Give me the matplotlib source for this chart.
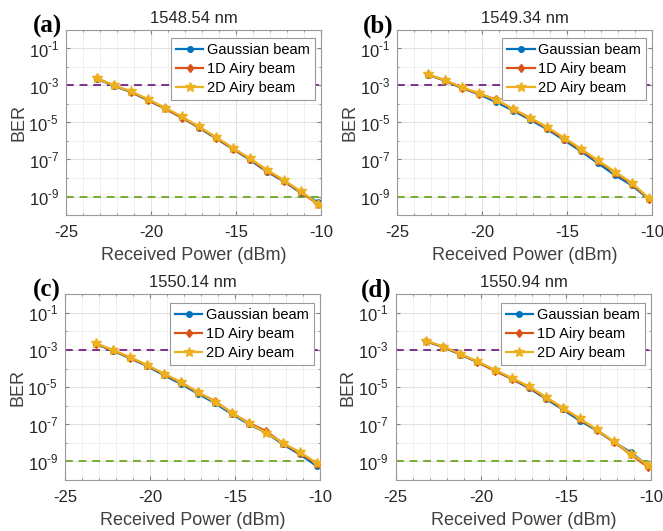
import numpy as np
import matplotlib.pyplot as plt
from matplotlib.ticker import LogLocator, MultipleLocator, NullFormatter

plt.rcParams['font.family'] = ['Liberation Sans', 'DejaVu Sans']
plt.rcParams['axes.unicode_minus'] = False
plt.rcParams['mathtext.fontset'] = 'custom'
plt.rcParams['mathtext.rm'] = 'Liberation Sans'

# received optical power (dBm)
power = [-23.2, -22.2, -21.2, -20.2, -19.2, -18.2, -17.2, -16.2,
         -15.2, -14.2, -13.2, -12.2, -11.2, -10.2]

wavelengths = ['1548.54 nm', '1549.34 nm', '1550.14 nm', '1550.94 nm']
letters = ['(a)', '(b)', '(c)', '(d)']
labels = ['Gaussian beam', '1D Airy beam', '2D Airy beam']

# log10(BER) for each channel
gauss_a = [-2.64, -3.02, -3.36, -3.80, -4.25, -4.74, -5.28, -5.86, -6.43, -7.02, -7.66, -8.18, -8.80, -9.30]
airy1_a = [-2.62, -3.00, -3.34, -3.77, -4.24, -4.74, -5.25, -5.83, -6.41, -6.98, -7.62, -8.15, -8.78, -9.40]
airy2_a = [-2.62, -3.00, -3.32, -3.74, -4.20, -4.68, -5.22, -5.78, -6.37, -6.94, -7.55, -8.11, -8.72, -9.38]

gauss_b = [-2.42, -2.75, -3.15, -3.48, -3.90, -4.36, -4.85, -5.36, -5.95, -6.56, -7.20, -7.85, -8.40, -9.15]
airy1_b = [-2.41, -2.73, -3.13, -3.45, -3.76, -4.30, -4.78, -5.29, -5.88, -6.48, -7.10, -7.72, -8.32, -9.11]
airy2_b = [-2.40, -2.72, -3.10, -3.43, -3.78, -4.26, -4.74, -5.25, -5.82, -6.42, -7.05, -7.66, -8.27, -9.10]

gauss_c = [-2.68, -3.04, -3.44, -3.86, -4.36, -4.82, -5.35, -5.86, -6.45, -7.00, -7.44, -8.08, -8.62, -9.25]
airy1_c = [-2.66, -3.02, -3.41, -3.82, -4.30, -4.75, -5.29, -5.74, -6.39, -6.92, -7.36, -8.02, -8.56, -9.13]
airy2_c = [-2.64, -3.00, -3.38, -3.80, -4.27, -4.72, -5.26, -5.78, -6.37, -6.95, -7.45, -8.00, -8.50, -9.08]

gauss_d = [-2.54, -2.86, -3.25, -3.66, -4.10, -4.56, -5.04, -5.62, -6.20, -6.80, -7.33, -7.95, -8.50, -9.22]
airy1_d = [-2.53, -2.84, -3.24, -3.64, -4.12, -4.54, -5.00, -5.57, -6.14, -6.72, -7.30, -7.95, -8.62, -9.30]
airy2_d = [-2.52, -2.82, -3.22, -3.62, -4.06, -4.50, -4.95, -5.52, -6.10, -6.68, -7.28, -7.92, -8.58, -9.18]

panels = [(gauss_a, airy1_a, airy2_a), (gauss_b, airy1_b, airy2_b),
          (gauss_c, airy1_c, airy2_c), (gauss_d, airy1_d, airy2_d)]

fec_limit = 1e-3
target_ber = 1e-9

yticks = [1e-1, 1e-3, 1e-5, 1e-7, 1e-9]
ytick_labels = ['$10^{\\text{-}1}$', '$10^{\\text{-}3}$', '$10^{\\text{-}5}$',
                '$10^{\\text{-}7}$', '$10^{\\text{-}9}$']

colors = ['#0072BD', '#D95319', '#EDB120']
markers = ['o', 'd', '*']
msizes = [4, 4.5, 7]

fig = plt.figure(figsize=(6.63, 5.31), dpi=100)
boxes = [[0.0995, 0.595, 0.385, 0.349], [0.599, 0.595, 0.385, 0.349],
         [0.098, 0.096, 0.385, 0.350], [0.597, 0.096, 0.385, 0.350]]

for i in range(4):
    ax = fig.add_axes(boxes[i])
    ax.axhline(fec_limit, color='#7E2F8E', ls=(0, (4, 3)), lw=1.4, zorder=1)
    ax.axhline(target_ber, color='#77AC30', ls=(0, (4, 3)), lw=1.4, zorder=1)
    for j in range(3):
        ber = 10 ** np.array(panels[i][j])
        ax.semilogy(power, ber, color=colors[j], marker=markers[j], ms=msizes[j],
                    lw=1.6, label=labels[j], zorder=2 + j)

    ax.set_xlim(-25, -10)
    ax.set_ylim(1e-10, 1)
    ax.xaxis.set_major_locator(MultipleLocator(5))
    ax.xaxis.set_minor_locator(MultipleLocator(1))
    ax.yaxis.set_minor_locator(LogLocator(base=10, subs=(1.0,), numticks=20))
    ax.yaxis.set_minor_formatter(NullFormatter())
    ax.set_yticks(yticks)
    ax.set_yticklabels(ytick_labels)
    ax.grid(True, which='major', color='#e2e2e2', lw=0.8)
    ax.grid(True, which='minor', color='#ececec', lw=0.6)
    ax.set_axisbelow(True)
    ax.tick_params(which='both', direction='in', top=True, right=True,
                   colors='#808080', labelcolor='#262626', labelsize=12)
    ax.tick_params(axis='x', pad=7)
    ax.tick_params(axis='y', pad=5)
    ax.tick_params(which='major', length=3)
    ax.tick_params(which='minor', length=1.5)
    for s in ax.spines.values():
        s.set_color('#9a9a9a')

    ax.set_xlabel('Received Power (dBm)', fontsize=13, color='#404040', labelpad=5)
    ax.set_ylabel('BER', fontsize=13, color='#404040', labelpad=1)
    ax.set_title(wavelengths[i], fontsize=12, color='#262626', pad=5)
    ax.text(-0.015, 0.985, letters[i], transform=ax.transAxes, fontsize=18,
            fontweight='bold', family='Liberation Serif', va='baseline', ha='right')

    leg = ax.legend(loc='upper right', bbox_to_anchor=(0.976, 0.955), borderaxespad=0,
                    fontsize=10.5, handlelength=1.9, handletextpad=0.25,
                    labelspacing=0.35, borderpad=0.35, fancybox=False, framealpha=1)
    leg.get_frame().set_edgecolor('#9a9a9a')
    leg.get_frame().set_linewidth(0.8)

fig.savefig('out.png', dpi=100)
